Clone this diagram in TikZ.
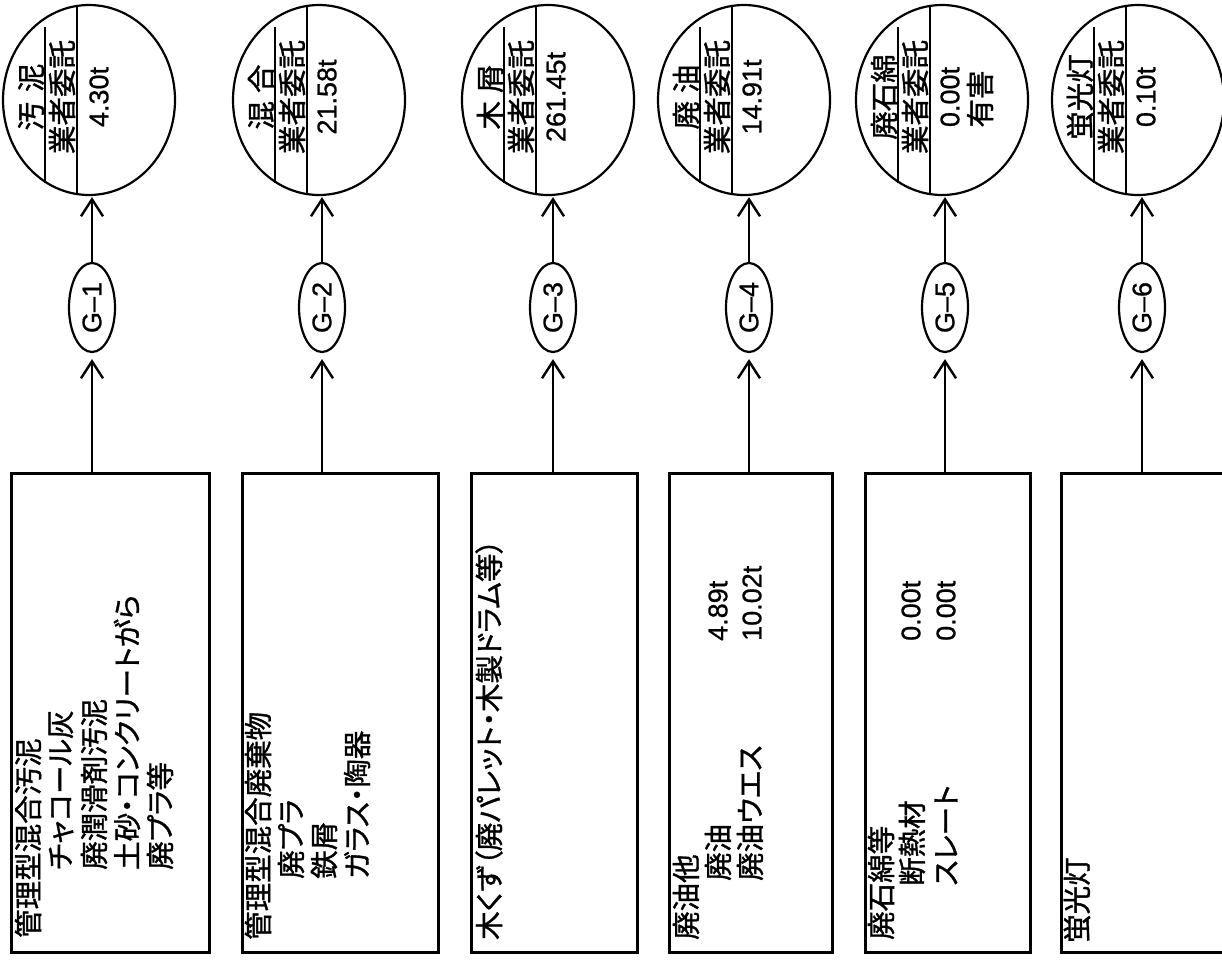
\documentclass[tikz,border=0pt]{standalone}
\usepackage{fontspec}
\setmainfont{Noto Sans CJK JP}[RawFeature={+palt}, FakeBold=1.2]
\newfontfamily\numfont{Liberation Sans}[FakeBold=0.8]
\usetikzlibrary{shapes,arrows.meta}

\begin{document}
\begin{tikzpicture}[x=1pt, y=-1pt,
	box/.style={draw, line width=2.8pt, anchor=north west, inner sep=0, minimum height=479pt},
	disc/.style={draw, ellipse, line width=2.2pt, minimum width=172pt, minimum height=190pt, inner sep=0},
	gtag/.style={draw, ellipse, line width=2.2pt, rotate=90, minimum width=89pt, minimum height=46pt, inner sep=0, font=\numfont\fontsize{27}{30}\selectfont},
	txt/.style={rotate=90, inner sep=0, font=\fontsize{28.5}{32}\selectfont},
	num/.style={rotate=90, inner sep=0, font=\numfont\fontsize{27}{30}\selectfont},
	chord/.style={line width=2.2pt},
	arr/.style={line width=2.4pt, -{Straight Barb[length=17pt, width=22pt]}}]
			\useasboundingbox (0,0) rectangle (1222,959);
			% G-1
			\node[disc] (c1) at (89,100) {};
			\draw[chord] (45,27) -- (45,183);
			\draw[chord] (77,6) -- (77,194);
			\node[txt] (c1a) at (31,97) {汚\hspace{10pt}泥};
			\node[txt] (c1b) at (62,97) {業者委託};
			\node[num] (c1c) at (99,97) {4.30t};
			\node[gtag] (g1) at (92,307.5) {G–1};
			\node[box, minimum width=198pt] (b1) at (10,472) {};
			\node[txt, anchor=west] (b1a) at (28,938) {管理型混合汚泥};
			\node[txt, anchor=west] (b1b) at (61,870) {チャコール灰};
			\node[txt, anchor=west] (b1c) at (94,870) {廃潤滑剤汚泥};
			\node[txt, anchor=west] (b1d) at (127,870) {土砂・コンクリートがら};
			\node[txt, anchor=west] (b1e) at (160,870) {廃プラ等};
			\draw[arr, shorten >=6pt] (b1.north -| g1) -- (g1.west);
			\draw[arr, shorten >=1pt] (g1.east) -- (g1.east |- c1.south);
			% G-2
			\node[disc] (c2) at (319,100) {};
			\draw[chord] (275,27) -- (275,183);
			\draw[chord] (307,6) -- (307,194);
			\node[txt] (c2a) at (261,97) {混\hspace{8pt}合};
			\node[txt] (c2b) at (292,97) {業者委託};
			\node[num] (c2c) at (327,97) {21.58t};
			\node[gtag] (g2) at (322,307.5) {G–2};
			\node[box, minimum width=196pt] (b2) at (241,472) {};
			\node[txt, anchor=west] (b2a) at (258,940) {管理型混合廃棄物};
			\node[txt, anchor=west] (b2b) at (291,879) {廃プラ};
			\node[txt, anchor=west] (b2c) at (324,879) {鉄屑};
			\node[txt, anchor=west] (b2d) at (357,879) {ガラス・陶器};
			\draw[arr, shorten >=6pt] (b2.north -| g2) -- (g2.west);
			\draw[arr, shorten >=1pt] (g2.east) -- (g2.east |- c2.south);
			% G-3
			\node[disc] (c3) at (548,100) {};
			\draw[chord] (504,27) -- (504,183);
			\draw[chord] (536,6) -- (536,194);
			\node[txt] (c3a) at (490,97) {木\hspace{8pt}屑};
			\node[txt] (c3b) at (521,97) {業者委託};
			\node[num] (c3c) at (556,97) {261.45t};
			\node[gtag] (g3) at (553,307.5) {G–3};
			\node[box, minimum width=166pt] (b3) at (470,472) {};
			\node[txt, anchor=west] (b3a) at (489,940) {木くず（廃パレット・木製ドラム等）};
			\draw[arr, shorten >=6pt] (b3.north -| g3) -- (g3.west);
			\draw[arr, shorten >=1pt] (g3.east) -- (g3.east |- c3.south);
			% G-4
			\node[disc] (c4) at (744,100) {};
			\draw[chord] (700,27) -- (700,183);
			\draw[chord] (732,6) -- (732,194);
			\node[txt] (c4a) at (686,97) {廃\hspace{8pt}油};
			\node[txt] (c4b) at (717,97) {業者委託};
			\node[num] (c4c) at (752,97) {14.91t};
			\node[gtag] (g4) at (749,307.5) {G–4};
			\node[box, minimum width=163pt] (b4) at (668,472) {};
			\node[txt, anchor=west] (b4a) at (686,940) {廃油他};
			\node[txt, anchor=west] (b4b) at (718,881) {廃油};
			\node[txt, anchor=west] (b4c) at (750,881) {廃油ウエス};
			\node[num, anchor=west] (b4d) at (718,641) {4.89t};
			\node[num, anchor=west] (b4e) at (752,641) {10.02t};
			\draw[arr, shorten >=6pt] (b4.north -| g4) -- (g4.west);
			\draw[arr, shorten >=1pt] (g4.east) -- (g4.east |- c4.south);
			% G-5
			\node[disc] (c5) at (942,100) {};
			\draw[chord] (898,27) -- (898,183);
			\draw[chord] (930,6) -- (930,194);
			\node[txt] (c5a) at (884,97) {廃石綿};
			\node[txt] (c5b) at (915,97) {業者委託};
			\node[num] (c5c) at (950,97) {0.00t};
			\node[txt] (c5d) at (980,99) {有害};
			\node[gtag] (g5) at (945,307.5) {G–5};
			\node[box, minimum width=165pt] (b5) at (864,472) {};
			\node[txt, anchor=west] (b5a) at (881,940) {廃石綿等};
			\node[txt, anchor=west] (b5b) at (912,886) {断熱材};
			\node[txt, anchor=west] (b5c) at (946,886) {スレート};
			\node[num, anchor=west] (b5d) at (911,641) {0.00t};
			\node[num, anchor=west] (b5e) at (946,641) {0.00t};
			\draw[arr, shorten >=6pt] (b5.north -| g5) -- (g5.west);
			\draw[arr, shorten >=1pt] (g5.east) -- (g5.east |- c5.south);
			% G-6
			\node[disc] (c6) at (1138,100) {};
			\draw[chord] (1094,27) -- (1094,183);
			\draw[chord] (1126,6) -- (1126,194);
			\node[txt] (c6a) at (1080,97) {蛍光灯};
			\node[txt] (c6b) at (1111,97) {業者委託};
			\node[num] (c6c) at (1146,97) {0.10t};
			\node[gtag] (g6) at (1142,307.5) {G–6};
			\node[box, minimum width=172pt] (b6) at (1060,472) {};
			\node[txt, anchor=west] (b6a) at (1077,943) {蛍光灯};
			\draw[arr, shorten >=6pt] (b6.north -| g6) -- (g6.west);
			\draw[arr, shorten >=1pt] (g6.east) -- (g6.east |- c6.south);
		\end{tikzpicture}
\end{document}
